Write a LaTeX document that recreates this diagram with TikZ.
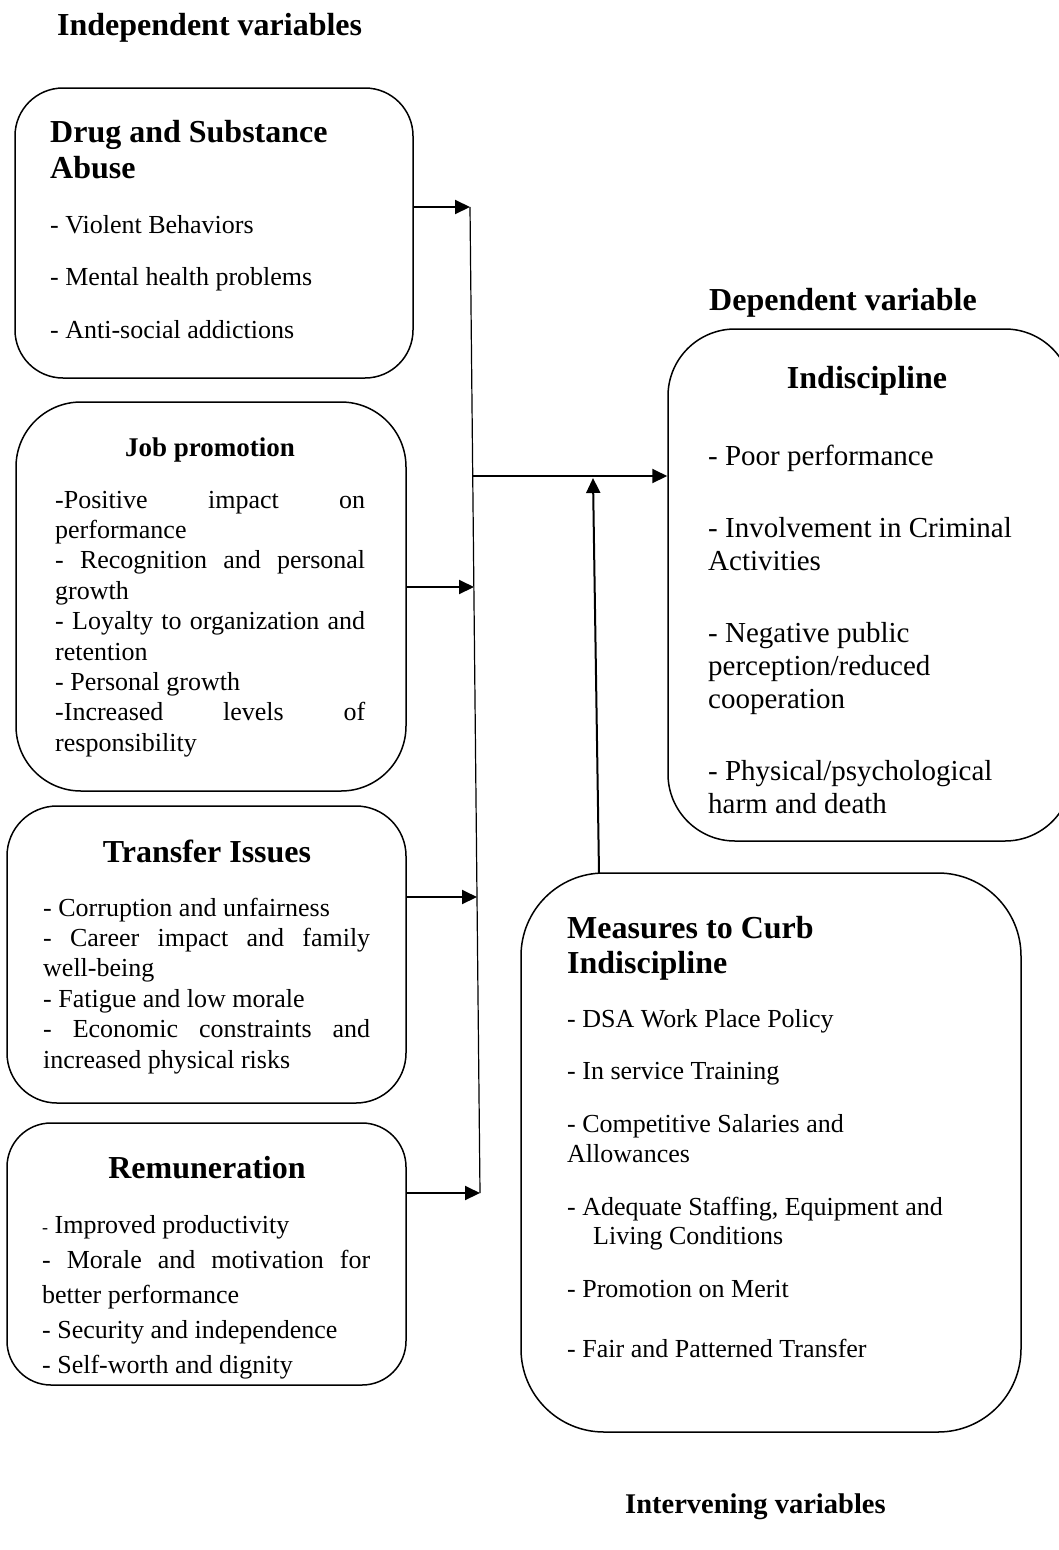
\documentclass[tikz,border=0pt]{standalone}
\usepackage{fontspec}
\setmainfont{Liberation Serif}
\usetikzlibrary{arrows.meta}
\begin{document}
\begin{tikzpicture}[x=1pt,y=-1pt,
  box/.style={draw, line width=1.5pt, rectangle, inner sep=0pt},
  arr/.style={line width=2pt, -{Triangle[length=15pt,width=14pt]}},
  thin/.style={line width=1.2pt},
  hd/.style={font=\fontsize{32}{36}\selectfont\bfseries, anchor=base west, inner sep=0pt},
  hdc/.style={hd, anchor=base},
  bt/.style={font=\fontsize{26}{30}\selectfont, anchor=base west, inner sep=0pt},
  bi/.style={font=\fontsize{29}{33}\selectfont, anchor=base west, inner sep=0pt}]
\useasboundingbox (0,0) rectangle (1058,1550);

% labels
\node[hd] (lIndep) at (57,35) {Independent variables};
\node[hd] (lDep) at (709,310) {Dependent variable};
\node[hd, font=\fontsize{28.5}{32}\selectfont\bfseries] (lInt) at (625,1513) {Intervening variables};

% boxes
\node[box, minimum width=398pt, minimum height=290pt, rounded corners=48pt] (drug) at (214,233) {};
\node[box, minimum width=390pt, minimum height=389pt, rounded corners=65pt] (job) at (211,596.5) {};
\node[box, minimum width=399pt, minimum height=297pt, rounded corners=50pt] (trans) at (206.5,954.5) {};
\node[box, minimum width=399pt, minimum height=262pt, rounded corners=44pt] (remu) at (206.5,1254) {};
\node[box, minimum width=404pt, minimum height=512pt, rounded corners=67pt] (indis) at (870,585) {};
\node[box, minimum width=500pt, minimum height=559pt, rounded corners=83pt] (meas) at (771,1152.5) {};

% Drug box text
\node[hd] (dH1) at (50,142) {Drug and Substance};
\node[hd] (dH2) at (50,178) {Abuse};
\node[bt] (d1) at (50,233) {- Violent Behaviors};
\node[bt] (d2) at (50,285) {- Mental health problems};
\node[bt] (d3) at (50,338) {- Anti-social addictions};

% Job promotion text
\node[hdc, font=\fontsize{27}{30}\selectfont\bfseries] (jH) at (210,456) {Job promotion};
\node[bt] (j1) at (55,508) {\makebox[310pt][s]{-Positive impact on}};
\node[bt] (j2) at (55,538.4) {performance};
\node[bt] (j3) at (55,568.8) {\makebox[310pt][s]{- Recognition and personal}};
\node[bt] (j4) at (55,599.2) {growth};
\node[bt] (j5) at (55,629.6) {\makebox[310pt][s]{- Loyalty to organization and}};
\node[bt] (j6) at (55,660) {retention};
\node[bt] (j7) at (55,690.4) {- Personal growth};
\node[bt] (j8) at (55,720.8) {\makebox[310pt][s]{-Increased levels of}};
\node[bt] (j9) at (55,751.2) {responsibility};

% Transfer issues text
\node[hdc] (tH) at (207,862) {Transfer Issues};
\node[bt] (t1) at (43,916) {- Corruption and unfairness};
\node[bt] (t2) at (43,946.4) {\makebox[327pt][s]{- Career impact and family}};
\node[bt] (t3) at (43,976.8) {well-being};
\node[bt] (t4) at (43,1007.2) {- Fatigue and low morale};
\node[bt] (t5) at (43,1037.6) {\makebox[327pt][s]{- Economic constraints and}};
\node[bt] (t6) at (43,1068) {increased physical risks};

% Remuneration text
\node[hdc] (rH) at (207,1178) {Remuneration};
\node[bt] (r1) at (42,1233) {{\fontsize{18}{20}\selectfont -} Improved productivity};
\node[bt] (r2) at (42,1268) {\makebox[328pt][s]{- Morale and motivation for}};
\node[bt] (r3) at (42,1303) {better performance};
\node[bt] (r4) at (42,1338) {- Security and independence};
\node[bt] (r5) at (42,1373) {- Self-worth and dignity};

% Indiscipline text
\node[hdc] (iH) at (867,388) {Indiscipline};
\node[bi] (i1) at (708,465) {- Poor performance};
\node[bi] (i2) at (708,537) {- Involvement in Criminal};
\node[bi] (i3) at (708,570) {Activities};
\node[bi] (i4) at (708,642) {- Negative public};
\node[bi] (i5) at (708,675) {perception/reduced};
\node[bi] (i6) at (708,708) {cooperation};
\node[bi] (i7) at (708,780) {- Physical/psychological};
\node[bi] (i8) at (708,813) {harm and death};

% Measures text
\node[hd] (mH1) at (567,938) {Measures to Curb};
\node[hd] (mH2) at (567,973) {Indiscipline};
\node[bt] (m1) at (567,1027) {- DSA Work Place Policy};
\node[bt] (m2) at (567,1079) {- In service Training};
\node[bt] (m3) at (567,1132) {- Competitive Salaries and};
\node[bt] (m4) at (567,1162) {Allowances};
\node[bt] (m5) at (567,1215) {- Adequate Staffing, Equipment and};
\node[bt] (m6) at (593,1244) {Living Conditions};
\node[bt] (m7) at (567,1297) {- Promotion on Merit};
\node[bt] (m8) at (567,1357) {- Fair and Patterned Transfer};

% connectors
\coordinate (vtop) at (470,207);
\coordinate (cj) at (474,587);
\coordinate (ct) at (477,897);
\coordinate (vbot) at (480,1193);
\coordinate (hs) at (472,476);
\coordinate (mtop) at (599,873);
\coordinate (mtip) at (593,478);

\draw[thin] (vtop) -- (vbot);
\draw[arr] (vtop -| drug.east) -- (vtop);
\draw[arr] (cj -| job.east) -- (cj);
\draw[arr] (ct -| trans.east) -- (ct);
\draw[arr] (vbot -| remu.east) -- (vbot);
\draw[arr] (hs) -- (hs -| indis.west);
\draw[arr] (mtop) -- (mtip);
\end{tikzpicture}
\end{document}
